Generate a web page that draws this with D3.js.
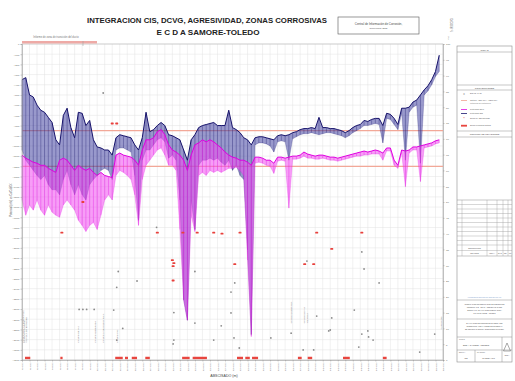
<!DOCTYPE html>
<html>
<head>
<meta charset="utf-8">
<script src="https://cdn.jsdelivr.net/npm/d3@7"></script>
<style>
  html, body { margin: 0; padding: 0; background: #ffffff; }
  svg { display: block; font-family: "Liberation Sans", Arial, sans-serif; }
</style>
</head>
<body>
<svg id="chart" width="515" height="381"></svg>
<script>
// ---- Abscisado de las lecturas CIS (km) ----
const abscisa = [
  0,0.5,1,1.5,2,2.5,3,3.5,4,4.5, 5,5.5,6,6.5,7,7.5,8,8.5,9,9.5,
  10,10.5,11,11.5,12,12.5,13,13.5,14,14.5, 15,15.5,16,16.5,17,17.5,18,18.5,19,19.5,
  20,20.5,21,21.5,22,22.5,23,23.5,24,24.5, 25,25.5,26,26.5,27,27.5,28,28.5,29,29.5,
  30,30.5,31,31.5,32,32.5,33,33.5,34,34.5, 35,35.5,36,36.5,37,37.5,38,38.5,39,39.5,
  40,40.5,41,41.5,42,42.5,43,43.5,44,44.5, 45,45.5,46,46.5,47,47.5,48,48.5,49,49.5,
  50,50.5,51,51.5,52,52.5,53,53.5,54,54.5, 55,55.5
];

// Potencial ON (mV): envolvente superior e inferior de cada tramo
const onTop = [
  -350,-330,-500,-520,-600,-650,-670,-720,-770,-940,
  -990,-700,-630,-820,-920,-670,-680,-800,-750,-940,
  -1010,-1020,-1040,-1040,-1090,-920,-890,-900,-910,-920,
  -990,-1040,-920,-670,-860,-840,-800,-770,-800,-890,
  -900,-920,-940,-1040,-1140,-940,-890,-820,-800,-790,
  -780,-770,-800,-800,-800,-650,-820,-840,-870,-920,
  -940,-990,-920,-910,-910,-920,-930,-940,-900,-890,
  -900,-890,-870,-860,-840,-830,-830,-820,-830,-720,
  -820,-820,-830,-830,-840,-850,-870,-850,-820,-800,
  -790,-750,-760,-740,-730,-730,-800,-680,-690,-730,
  -790,-630,-630,-620,-570,-550,-500,-450,-410,-350,
  -270,-110
];
const onBot = [
  -1040,-1140,-1190,-1240,-1290,-1330,-1290,-1380,-1430,-1430,
  -1480,-1330,-1240,-1380,-1480,-1380,-1480,-1530,-1380,-1330,
  -1290,-1240,-1220,-1240,-1330,-1040,-1020,-1020,-1040,-1060,
  -1290,-1730,-1140,-1040,-1040,-990,-940,-920,-960,-1120,
  -1090,-1140,-1530,-2510,-2710,-1530,-1820,-1190,-1140,-1140,
  -1120,-1140,-1120,-1160,-1190,-1140,-1240,-1190,-1290,-1330,
  -2020,-2850,-990,-970,-970,-980,-1000,-1060,-960,-950,
  -960,-1140,-930,-910,-890,-880,-880,-870,-880,-890,
  -880,-870,-870,-880,-890,-900,-920,-900,-870,-850,
  -830,-800,-800,-790,-780,-790,-970,-730,-740,-790,
  -840,-680,-1140,-670,-620,-600,-1170,-500,-460,-400,
  -320,-270
];

// Potencial OFF (mV)
const offTop = [
  -1090,-1120,-1140,-1160,-1170,-1190,-1190,-1220,-1240,-1260,
  -1140,-1120,-1140,-1190,-1240,-1190,-1220,-1240,-1220,-1260,
  -1290,-1260,-1290,-1300,-1310,-1090,-1070,-1090,-1100,-1110,
  -1140,-1190,-1040,-940,-940,-920,-860,-840,-890,-990,
  -1040,-1060,-1090,-1140,-1240,-1090,-990,-970,-940,-960,
  -940,-960,-990,-1020,-1060,-1090,-1110,-1120,-1140,-1140,
  -1160,-1190,-1110,-1110,-1120,-1140,-1140,-1170,-1110,-1110,
  -1120,-1110,-1100,-1100,-1090,-1060,-1080,-1090,-1100,-1090,
  -1090,-1100,-1110,-1110,-1120,-1110,-1100,-1090,-1080,-1070,
  -1060,-1050,-1060,-1050,-1040,-1050,-1070,-1020,-1020,-1140,
  -1190,-1040,-1050,-1040,-1010,-1010,-1000,-990,-980,-970,
  -950,-940
];
const offBot = [
  -1530,-1680,-1580,-1630,-1530,-1630,-1680,-1580,-1650,-1680,
  -1700,-1580,-1530,-1580,-1630,-1730,-1780,-1840,-1780,-1750,
  -1820,-1680,-1530,-1480,-1530,-1290,-1240,-1260,-1290,-1330,
  -1480,-1780,-1330,-1190,-1140,-1090,-1040,-1020,-1090,-1190,
  -1190,-1240,-1820,-2510,-2710,-1680,-1840,-1290,-1260,-1290,
  -1240,-1260,-1240,-1260,-1240,-1220,-1220,-1210,-1240,-1290,
  -2120,-2870,-1170,-1160,-1170,-1190,-1200,-1270,-1150,-1140,
  -1150,-1610,-1130,-1130,-1120,-1100,-1120,-1120,-1130,-1130,
  -1120,-1130,-1140,-1140,-1150,-1140,-1130,-1120,-1110,-1100,
  -1100,-1090,-1090,-1080,-1080,-1080,-1140,-1050,-1050,-1190,
  -1220,-1070,-1400,-1070,-1040,-1040,-1350,-1020,-1010,-1000,
  -980,-970
];

// Criterios de protección (mV)
const criterios = [-850, -1200];

// DCVG: % IR por indicación
const dcvgKm = [17.9,12.8,12.6,15.3,20.2,7.6,8.1,8.6,9.6,12.2,13.4,12.6,20.2,20.1,23.0,28.3,27.8,27.8,23.0,26.5,
  28.2,33.1,25.5,28.9,35.8,37.4,38.8,39.2,41.2,40.8,37.9,45.2,45.5,47.5,44.2,46.0,45.2,46.1,46.7,44.8,52.9,54.9,41.0,10.8];
const dcvgIR = [42,28,23,25,15,16,16,16,16,15.8,10,6.3,6.3,5.1,28,24.4,21.5,14.9,11.7,10.8,
  7,7,6.3,3.8,8.5,3.2,3.2,13.9,13.3,9.2,31.3,34.2,28.8,24.4,15.8,9.2,8.2,7.3,6.3,4.1,2.5,8.2,9.5,84.5];

// Agresividad del suelo (puntos críticos, mV)
const agresKm = [12.0,12.6,8.1,5.3,18.0,21.4,23.3,25.5,26.6,29.0,39.2,45.2,41.2,20.0,20.2,20.1,28.3,37.6,38.8,20.1];
const agresMv = [-780,-780,-1550,-1850,-1850,-1850,-1850,-1850,-1860,-1850,-1850,-1850,-2010,-2120,-2150,-2180,-2160,-2160,-2160,-2320];

// Zonas corrosivas activas (km inicio / fin)
const zonasIni = [0.4,5.1,12.4,13.7,14.6,16.4,21.3,22.7,28.6,29.7,30.6,36.7,38.0,42.7,48.0];
const zonasFin = [1.1,5.4,13.4,14.1,15.3,17.0,22.3,24.6,29.4,30.3,31.4,37.2,38.6,43.6,48.5];

// Eventos sobre el derecho de vía
const eventosKm  = [0.1,0.35,0.6,7.45,9.7,10.75,12.65,35.75,37.6,38.0];
const eventosMv  = [-2930,-2930,-2930,-2930,-2930,-2930,-2930,-2740,-2740,-2740];
const eventosTxt = ["CRUCE QDA. LA ESPERANZA","ESTACION SAMORE","VALVULA DE BLOQUEO","CRUCE DE VIA",
  "CRUCE QUEBRADA","CRUCE LINEA ELECTRICA","CRUCE RIO","CRUCE QUEBRADA","CRUCE DE VIA","VALVULA"];

// Ejes
const kmTicks = d3.range(0, 57, 1);
const mvTicks = d3.range(0, -3101, -100);
const irTicks = d3.range(0, 101, 5);

const svg = d3.select("#chart");
const x = d3.scaleLinear().domain([0, 56]).range([22, 443]);
const y = d3.scaleLinear().domain([0, -3100]).range([44, 360]);
const yR = d3.scaleLinear().domain([100, 0]).range([44, 360]);
const [yT, yB] = [y.range()[0], y.range()[1]];
const [xL, xRt] = x.range();

svg.append("rect").attr("width", 515).attr("height", 381).attr("fill", "#ffffff");

// ---- cuadrícula ----
const grid = svg.append("g");
grid.selectAll("line.v").data(kmTicks).join("line")
  .attr("x1", d => x(d)).attr("x2", d => x(d)).attr("y1", yT).attr("y2", yB)
  .attr("stroke", "#e3e3e3").attr("stroke-width", 0.5);
grid.selectAll("line.h").data(mvTicks).join("line")
  .attr("x1", xL).attr("x2", xRt).attr("y1", d => y(d)).attr("y2", d => y(d))
  .attr("stroke", "#e3e3e3").attr("stroke-width", 0.5);
svg.append("rect").attr("x", xL).attr("y", yT).attr("width", xRt - xL).attr("height", yB - yT)
  .attr("fill", "none").attr("stroke", "#b8b8b8").attr("stroke-width", 0.6);

// ---- títulos ----
svg.append("text").attr("x", 207).attr("y", 23).attr("text-anchor", "middle")
  .attr("font-size", 7.4).attr("font-weight", "bold").attr("fill", "#222")
  .attr("textLength", 240).attr("lengthAdjust", "spacingAndGlyphs")
  .text("INTEGRACION CIS, DCVG, AGRESIVIDAD, ZONAS CORROSIVAS");
svg.append("text").attr("x", 208).attr("y", 35).attr("text-anchor", "middle")
  .attr("font-size", 7.4).attr("font-weight", "bold").attr("fill", "#222")
  .attr("textLength", 103).attr("lengthAdjust", "spacingAndGlyphs")
  .text("E C D A  SAMORE-TOLEDO");

// recuadro de referencia
svg.append("rect").attr("x", 338).attr("y", 17).attr("width", 81).attr("height", 17)
  .attr("fill", "#fff").attr("stroke", "#555").attr("stroke-width", 0.6);
svg.append("text").attr("x", 378.5).attr("y", 24.5).attr("text-anchor", "middle")
  .attr("font-size", 2.9).attr("fill", "#444").text("Central de Información de Corrosión,");
svg.append("text").attr("x", 378.5).attr("y", 29).attr("text-anchor", "middle")
  .attr("font-size", 2.4).attr("fill", "#555").text("Referencia: ECD");

// rótulo vertical superior derecho
svg.append("text").attr("transform", "translate(453,32) rotate(-90)")
  .attr("font-size", 2.6).attr("fill", "#666").text("% IR DCVG");
svg.append("text").attr("transform", "translate(449,40) rotate(-90)")
  .attr("font-size", 2.4).attr("fill", "#666").text("(%)");

// franja superior izquierda
svg.append("line").attr("x1", 22).attr("x2", 97).attr("y1", 42.3).attr("y2", 42.3)
  .attr("stroke", "#eeaaa6").attr("stroke-width", 2.6);
svg.append("text").attr("x", 56).attr("y", 38).attr("text-anchor", "middle")
  .attr("font-size", 2.6).attr("fill", "#777").text("Informe de zona de transición del ducto");
svg.append("line").attr("x1", 83).attr("x2", 83).attr("y1", 41).attr("y2", 46)
  .attr("stroke", "#999").attr("stroke-width", 0.5);

// ---- criterios ----
svg.selectAll("line.crit").data(criterios).join("line")
  .attr("x1", xL).attr("x2", xRt).attr("y1", d => y(d)).attr("y2", d => y(d))
  .attr("stroke", "#f2a898").attr("stroke-width", 1.3);

// ---- series CIS ----
// cada lectura se dibuja como trazo vertical entre su envolvente superior e inferior,
// sobre un relleno translúcido y con el borde superior marcado
function streaks(top, bot) {
  return abscisa.map((k, i) => `M${x(k)},${y(top[i])}V${y(bot[i])}`).join("");
}
const band = (top, bot) => d3.area()
  .x((d, i) => x(abscisa[i])).y0((d, i) => y(bot[i])).y1((d, i) => y(top[i]))(abscisa);
const edge = vals => d3.line().x((d, i) => x(abscisa[i])).y(d => y(d))(vals);

function drawSeries(top, bot, fill, fillOp, dark, streakOp) {
  const gS = svg.append("g");
  gS.append("path").attr("d", band(top, bot)).attr("fill", fill).attr("opacity", fillOp);
  gS.append("path").attr("d", streaks(top, bot)).attr("fill", "none")
    .attr("stroke", dark).attr("stroke-width", 0.8).attr("opacity", streakOp);
  gS.append("path").attr("d", edge(bot)).attr("fill", "none")
    .attr("stroke", dark).attr("stroke-width", 0.5).attr("opacity", 0.45);
  gS.append("path").attr("d", edge(top)).attr("fill", "none")
    .attr("stroke", dark).attr("stroke-width", 1.0).attr("stroke-linejoin", "round");
}
drawSeries(onTop, onBot, "#34349a", 0.5, "#16126a", 0.4);
drawSeries(offTop, offBot, "#f04cf0", 0.55, "#e000e0", 0.4);

// ---- DCVG ----
svg.selectAll("circle.dcvg").data(dcvgKm).join("circle")
  .attr("cx", d => x(d)).attr("cy", (d, i) => yR(dcvgIR[i])).attr("r", 0.9)
  .attr("fill", "#8a8a8a");

// ---- agresividad ----
svg.selectAll("rect.agr").data(agresKm).join("rect")
  .attr("x", d => x(d) - 1.5).attr("y", (d, i) => y(agresMv[i]) - 0.9)
  .attr("width", 3).attr("height", 1.8).attr("rx", 0.6)
  .attr("fill", "#e8403c");

// ---- zonas corrosivas ----
svg.selectAll("rect.zona").data(zonasIni).join("rect")
  .attr("x", d => x(d)).attr("width", (d, i) => x(zonasFin[i]) - x(d))
  .attr("y", y(-3080) - 1.2).attr("height", 2.4).attr("fill", "#e8463f");

// ---- eventos ----
svg.selectAll("text.ev").data(eventosKm).join("text")
  .attr("transform", (d, i) => `translate(${x(d) + 0.8},${y(eventosMv[i])}) rotate(-90)`)
  .attr("font-size", 2.3).attr("fill", "#777").text((d, i) => eventosTxt[i]);

// ---- ejes ----
const axL = svg.append("g").attr("transform", `translate(${xL},0)`)
  .call(d3.axisLeft(y).tickValues(mvTicks).tickSize(1.5).tickPadding(1).tickFormat(d3.format("d")));
axL.selectAll("text").attr("font-size", 2.5).attr("fill", "#666");
axL.selectAll("line, path").attr("stroke", "#999").attr("stroke-width", 0.5);

const axR = svg.append("g").attr("transform", `translate(${xRt},0)`)
  .call(d3.axisRight(yR).tickValues(irTicks).tickSize(1.5).tickPadding(1.5));
axR.selectAll("text").attr("font-size", 2.5).attr("fill", "#666");
axR.selectAll("line, path").attr("stroke", "#999").attr("stroke-width", 0.5);

const axB = svg.append("g").attr("transform", `translate(0,${yB})`)
  .call(d3.axisBottom(x).tickValues(kmTicks).tickSize(1.5).tickFormat(d => `K${d}+000`));
axB.selectAll("line, path").attr("stroke", "#999").attr("stroke-width", 0.5);
axB.selectAll("text").attr("font-size", 2.2).attr("fill", "#777")
  .attr("transform", "rotate(-90)").attr("x", -2.5).attr("y", 0).attr("dy", "0.32em")
  .attr("text-anchor", "end");

svg.append("text").attr("x", 224).attr("y", 377).attr("text-anchor", "middle")
  .attr("font-size", 3.6).attr("fill", "#444").text("ABSCISADO (m)");
svg.append("text").attr("transform", "translate(12,200) rotate(-90)").attr("text-anchor", "middle")
  .attr("font-size", 2.6).attr("fill", "#555").text("Potencial (mV) vs Cu/CuSO4");
svg.append("text").attr("transform", "translate(442,323) rotate(-90)").attr("text-anchor", "middle")
  .attr("font-size", 2.4).attr("fill", "#666").text("% IR DCVG");

// ---- cajetín lateral ----
const P = svg.append("g");
const px0 = 457, px1 = 512;
const line = (x1, y1, x2, y2, c = "#8c8c8c", w = 0.5) =>
  P.append("line").attr("x1", x1).attr("y1", y1).attr("x2", x2).attr("y2", y2)
    .attr("stroke", c).attr("stroke-width", w);
const txt = (xx, yy, s, size = 2.4, anchor = "middle", c = "#555") =>
  P.append("text").attr("x", xx).attr("y", yy).attr("text-anchor", anchor)
    .attr("font-size", size).attr("fill", c).text(s);

P.append("rect").attr("x", px0).attr("y", 46).attr("width", px1 - px0).attr("height", 316)
  .attr("fill", "#fff").attr("stroke", "#8c8c8c").attr("stroke-width", 0.6);
[52, 85, 90, 131, 137, 200, 256, 300, 319, 337, 350].forEach(v => line(px0, v, px1, v));
txt(484.5, 50.5, "NOTAS", 2.4);
txt(484.5, 88.8, "CONVENCIONES", 2.4);
txt(484.5, 135.3, "CONTROL DE REVISIONES", 2.3);

// convenciones
const lx = 464, tx = 470;
P.append("text").attr("x", lx).attr("y", 94.5).attr("text-anchor", "middle").attr("font-size", 3)
  .attr("fill", "#777").text("x");
txt(tx, 94.2, "DCVG % IR", 2.2, "start");
line(lx - 3, 100.5, lx + 3, 100.5, "#f0a290", 0.8);
txt(tx, 101, "Criterio -850 mV / -1200 mV", 2.2, "start");
txt(tx, 104, "Potencial de protección", 2.0, "start", "#777");
line(lx - 3, 109.5, lx + 3, 109.5, "#e010e0", 0.8);
txt(tx, 110.2, "Potencial OFF", 2.2, "start");
line(lx - 3, 113.5, lx + 3, 113.5, "#1a1670", 0.8);
txt(tx, 114.2, "Potencial ON", 2.2, "start");
P.append("text").attr("x", lx).attr("y", 120.4).attr("text-anchor", "middle").attr("font-size", 4)
  .attr("fill", "#e8403c").text("*");
txt(tx, 119.2, "Zona de agresividad", 2.2, "start");
P.append("rect").attr("x", lx - 3).attr("y", 124.8).attr("width", 6).attr("height", 1.8).attr("fill", "#e8463f");
txt(tx, 126.4, "Zona corrosiva activa", 2.2, "start");

// tabla de revisiones
[204.5, 209, 213.5, 218, 222.5, 227, 231.5, 236, 240.5, 245, 250.5].forEach(v => line(px0, v, px1, v, "#9a9a9a", 0.4));
[462, 487, 497, 503, 508].forEach(v => line(v, 200, v, 256, "#9a9a9a", 0.4));
txt(474.5, 248.5, "DESCRIPCION", 1.8);
txt(474.5, 254, "REVISION", 1.8);
txt(492, 254, "FECHA", 1.6);
txt(500, 254, "ELAB.", 1.4);
txt(505.5, 254, "REV.", 1.4);
txt(510, 254, "APR.", 1.4);

// plano de localización
txt(484.5, 297.5, "Localización general del derecho de vía", 1.9, "middle", "#7a9ccc");

// notas técnicas
txt(484.5, 305, "INTEGRACION DE RESULTADOS DE INSPECCION", 1.7);
txt(484.5, 308, "INDIRECTA CIS - DCVG - RESISTIVIDAD DEL", 1.7);
txt(484.5, 311, "SUELO PARA EVALUACION DIRECTA ECDA", 1.7);
txt(484.5, 314, "TRAMO SAMORE - TOLEDO", 1.7);
txt(484.5, 324, "EVALUACION DE CORROSION EXTERNA DEL", 1.7);
txt(484.5, 327, "OLEODUCTO. LOS VALORES DE POTENCIAL", 1.7);
txt(484.5, 330, "SE REPORTAN CONTRA ELECTRODO Cu/CuSO4", 1.7);

// cajetín de título
line(502, 337, 502, 362);
line(475, 350, 475, 362);
txt(459, 340, "TITULO", 1.6, "start", "#666");
txt(476, 345.5, "ECD A  SAMORE - TOLEDO", 2.1, "middle", "#444");
txt(459, 353, "ESCALA", 1.6, "start", "#666");
txt(466, 358.5, "S/E", 2, "middle", "#444");
txt(477, 353, "PLANO No.", 1.6, "start", "#666");
txt(488.5, 358.5, "PL-ECDA-001", 2, "middle", "#444");
P.append("path").attr("d", `M507,${343} L510.5,${351} L503.5,${351} Z`)
  .attr("fill", "none").attr("stroke", "#555").attr("stroke-width", 0.5);
txt(507, 355.5, "ECDA", 1.6, "middle", "#555");
</script>
</body>
</html>
